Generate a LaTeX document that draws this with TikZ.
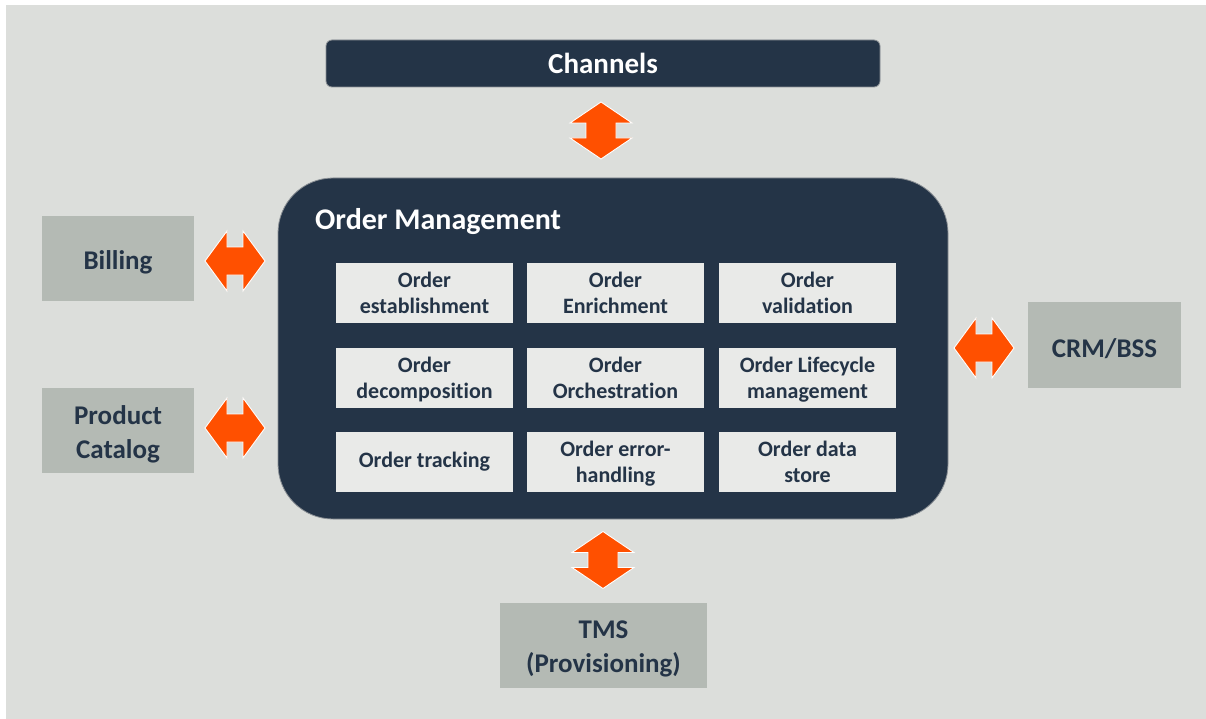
\documentclass[tikz,border=0pt]{standalone}
\usepackage{fontspec}
\setmainfont{Carlito}[Ligatures=NoCommon]
\usetikzlibrary{calc}
\definecolor{navy}{HTML}{243447}
\definecolor{canvas}{HTML}{DCDEDB}
\definecolor{sidebox}{HTML}{B4BAB4}
\definecolor{cellbox}{HTML}{E9EAE8}
\definecolor{flow}{HTML}{FF5000}
\definecolor{rim}{HTML}{8C9196}
\tikzset{
  darkbar/.style={fill=navy, draw=rim, line width=0.8pt, text=white, font=\bfseries\fontsize{29}{30}\selectfont},
  cell/.style={fill=cellbox, draw=none, text=navy, align=center, minimum width=177pt, minimum height=60pt, inner sep=0pt,
    font=\bfseries\fontsize{22}{26}\selectfont},
  system/.style={fill=sidebox, draw=none, inner sep=0pt},
  systext/.style={text=navy, align=center, inner sep=0pt, yshift=-3.5pt,
    font=\bfseries\fontsize{27}{34}\selectfont},
  blockarrow/.style={fill=flow, draw=white, line width=0.9pt, line join=miter},
}
% two-headed block arrows, centred on the point they are placed at
\tikzset{
  vdouble/.pic={\path[blockarrow] (0,-28.5) -- (31,-7.5) -- (15,-7.5) -- (15,7.5) -- (31,7.5) -- (0,28.5)
     -- (-31,7.5) -- (-15,7.5) -- (-15,-7.5) -- (-31,-7.5) -- cycle;},
  hdouble/.pic={\path[blockarrow] (-30,0) -- (-8,-30) -- (-8,-14) -- (8,-14) -- (8,-30) -- (30,0)
     -- (8,30) -- (8,14) -- (-8,14) -- (-8,30) -- cycle;},
}
\begin{document}
\begin{tikzpicture}[x=1pt, y=-1pt]
% page and canvas
\fill[white] (0,0) rectangle (1206,719);
\fill[canvas] (6,5) rectangle (1206,719);
\useasboundingbox (0,0) rectangle (1206,719);

% channels bar
\node[darkbar, rounded corners=6pt, minimum width=554pt, minimum height=47pt, inner sep=0pt]
  (chan) at (603,63.5) {Channels};

% order management container
\node[darkbar, rounded corners=55pt, minimum width=670pt, minimum height=341pt, inner sep=0pt]
  (om) at (613,348.5) {};
\node[text=white, font=\bfseries\fontsize{30}{32}\selectfont, anchor=west, inner sep=0pt] (omtitle) at (315,222) {Order Management};

% function cells (the last line is smashed so that descenders do not move the text)
\node[cell] (c11) at (424.5,293) {Order\\\smash{establishment}};
\node[cell] (c12) at (615.5,293) {Order\\\smash{Enrichment}};
\node[cell] (c13) at (807.5,293) {Order\\\smash{validation}};
\node[cell] (c21) at (424.5,378) {Order\\\smash{decomposition}};
\node[cell] (c22) at (615.5,378) {Order\\\smash{Orchestration}};
\node[cell] (c23) at (807.5,378) {Order Lifecycle\\\smash{management}};
\node[cell] (c31) at (424.5,462) {Order tracking};
\node[cell] (c32) at (615.5,462) {Order error-\\\smash{handling}};
\node[cell] (c33) at (807.5,462) {Order data\\\smash{store}};

% surrounding systems
\node[system, minimum width=152pt, minimum height=85pt] (bill) at (118,258.5) {};
\node[systext] (billtxt) at (bill.center) {Billing};
\node[system, minimum width=152pt, minimum height=85pt] (cat) at (118,430.5) {};
\node[systext] (cattxt) at (cat.center) {Product\\Catalog};
\node[system, minimum width=153pt, minimum height=86pt] (crm) at (1104.5,345) {};
\node[systext] (crmtxt) at (crm.center) {CRM/BSS};
\node[system, minimum width=207pt, minimum height=85pt] (tms) at (603.5,645.5) {};
\node[systext] (tmstxt) at (tms.center) {TMS\\(Provisioning)};

% exchanges between order management and the systems
\pic at (601,130.5) {vdouble};
\pic at (603,560) {vdouble};
\pic at (235,261) {hdouble};
\pic at (235,428) {hdouble};
\pic at (984,348) {hdouble};
\end{tikzpicture}
\end{document}
